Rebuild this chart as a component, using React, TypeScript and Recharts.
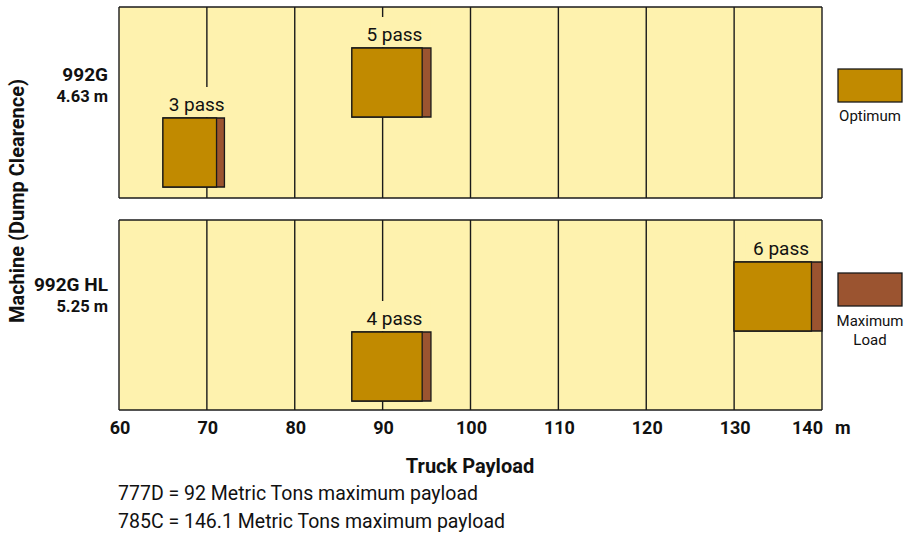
import { BarChart, Bar, XAxis, YAxis, CartesianGrid, LabelList } from "recharts"

const FONT = "Roboto, 'Liberation Sans', Arial, sans-serif"

const PANEL = "#FEF2AE"
const GOLD = "#C18A00"
const BROWN = "#9B5430"
const LINE = "#1a1a1a"

// truck payload axis (metric tons)
const payloadTicks = [60, 70, 80, 90, 100, 110, 120, 130, 140]
const payloadUnit = "m"

// machines, one panel each
const machines = ["992G", "992G HL"]
const clearances = ["4.63 m", "5.25 m"]

// two rows per panel, upper row first
const rows = ["upper", "lower"]
const passLabels = [["5 pass", "3 pass"], ["6 pass", "4 pass"]]
const optimumStart = [[86.5, 65], [130, 86.5]]
const optimumEnd = [[94.5, 71.1], [138.8, 94.5]]
const maximumEnd = [[95.5, 72], [140, 95.5]]

const footnotes = [
    "777D = 92 Metric Tons maximum payload",
    "785C = 146.1 Metric Tons maximum payload",
]

/**
 * Pass label above a bar. The yellow box behind the text hides the grid
 * line, the same way the printed chart does.
 */
const PassLabel = (props: any) => {
    const { x, y, width, value } = props
    const cx = x + width / 2 + 3
    return (
        <g>
            <rect x={cx - 36} y={y - 31} width={72} height={30} fill={PANEL} />
            <text x={cx} y={y - 7} textAnchor="middle" fontFamily={FONT} fontSize={19} fill="#111">{value}</text>
        </g>
    )
}

// last tick sits left of its grid line and carries the unit
const PayloadTick = (props: any) => {
    const { x, y, payload } = props
    const last = payload.value === payloadTicks[payloadTicks.length - 1]
    const style = { fontFamily: FONT, fontSize: 18, fontWeight: 700, fill: "#111" }
    return (
        <g>
            <text x={x + 1} y={y} dy="0.71em" textAnchor={last ? "end" : "middle"} {...style}>
                {payload.value}
            </text>
            {last && <text x={x + 13} y={y} dy="0.71em" {...style}>{payloadUnit}</text>}
        </g>
    )
}

const PassPanel = ({ index, showAxis }: { index: number; showAxis: boolean }) => {
    const data = rows.map((row, i) => ({
        row,
        label: passLabels[index][i],
        optimum: [optimumStart[index][i], optimumEnd[index][i]],
        maximum: [optimumStart[index][i], maximumEnd[index][i]],
    }))
    const pad = index === 0 ? { top: 40, bottom: 11 } : { top: 41, bottom: 9 }
    return (
        <BarChart
            layout="vertical"
            width={906}
            height={showAxis ? 240 : 210}
            data={data}
            margin={{ top: 7, left: 119, right: 84, bottom: showAxis ? 13 : 12 }}
            barSize={69}
            barGap={-69}
            barCategoryGap={0}
        >
            <CartesianGrid
                fill={PANEL}
                fillOpacity={1}
                stroke={LINE}
                strokeWidth={1.4}
                horizontalCoordinatesGenerator={({ offset }: any) => [offset.top, offset.top + offset.height]}
            />
            <XAxis
                type="number"
                domain={[60, 140]}
                ticks={payloadTicks}
                hide={!showAxis}
                height={30}
                axisLine={false}
                tickLine={false}
                tickMargin={5}
                tick={<PayloadTick />}
            />
            <YAxis type="category" dataKey="row" hide padding={pad} />
            <Bar dataKey="maximum" fill={BROWN} stroke={LINE} strokeWidth={1.3} isAnimationActive={false}>
                <LabelList dataKey="label" content={PassLabel} />
            </Bar>
            <Bar dataKey="optimum" fill={GOLD} stroke={LINE} strokeWidth={1.3} isAnimationActive={false} />
        </BarChart>
    )
}

export default function App() {
    return (
        <div style={{ position: "absolute", left: 0, top: 0, width: 906, height: 535, background: "#fff" }}>
            <div style={{ position: "absolute", left: 0, top: 0 }}>
                <PassPanel index={0} showAxis={false} />
            </div>
            <div style={{ position: "absolute", left: 0, top: 213 }}>
                <PassPanel index={1} showAxis={true} />
            </div>
            <svg width={906} height={535} style={{ position: "absolute", left: 0, top: 0, pointerEvents: "none" }} fontFamily={FONT}>
                <text x={17} y={201} transform="rotate(-90 17 201)" textAnchor="middle" dominantBaseline="central" fontSize={20} fontWeight={700} fill="#111">
                    Machine (Dump Clearence)
                </text>
                <text x={108} y={81} textAnchor="end" fontSize={19} fontWeight={700} fill="#111">{machines[0]}</text>
                <text x={108} y={102} textAnchor="end" fontSize={16.5} fontWeight={700} fill="#111">{clearances[0]}</text>
                <text x={108} y={291} textAnchor="end" fontSize={19} fontWeight={700} fill="#111">{machines[1]}</text>
                <text x={108} y={312} textAnchor="end" fontSize={16.5} fontWeight={700} fill="#111">{clearances[1]}</text>
                <text x={470} y={473} textAnchor="middle" fontSize={20} fontWeight={700} fill="#111">Truck Payload</text>
                {footnotes.map((t, i) => (
                    <text key={t} x={118} y={500 + i * 28} fontSize={19.5} fill="#111">{t}</text>
                ))}
                <rect x={838} y={69} width={64} height={33} fill={GOLD} stroke={LINE} strokeWidth={1.3} />
                <text x={870} y={121} textAnchor="middle" fontSize={15} fill="#111">Optimum</text>
                <rect x={838} y={273} width={64} height={33} fill={BROWN} stroke={LINE} strokeWidth={1.3} />
                <text x={870} y={326} textAnchor="middle" fontSize={15} fill="#111">Maximum</text>
                <text x={870} y={345} textAnchor="middle" fontSize={15} fill="#111">Load</text>
            </svg>
        </div>
    )
}
